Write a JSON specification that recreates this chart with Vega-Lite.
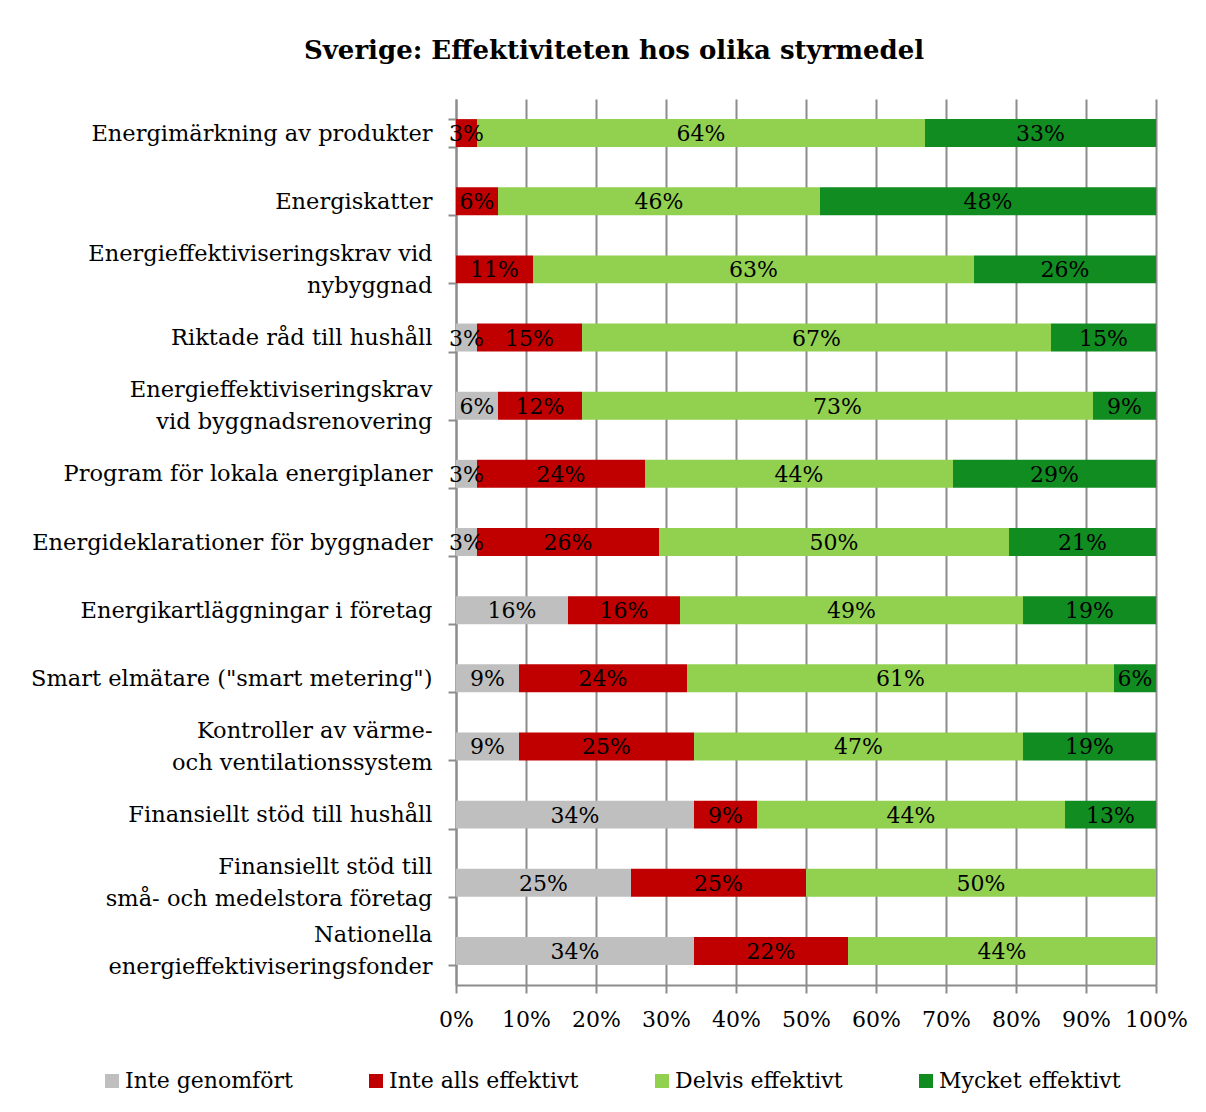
{
  "$schema": "https://vega.github.io/schema/vega-lite/v6.json",
  "width": 700,
  "height": 886,
  "autosize": "none",
  "padding": {"left": 456, "top": 99, "right": 50, "bottom": 127},
  "background": "white",
  "title": {"text": "Sverige: Effektiviteten hos olika styrmedel", "font": "DejaVu Serif", "fontSize": 26, "fontWeight": "bold", "color": "black", "anchor": "middle", "frame": "bounds", "offset": 24, "dx": 5},
  "data": {"values": [
    {"c": "Energimärkning av produkter", "s": "Inte alls effektivt", "n": 2, "v": 0.03},
    {"c": "Energimärkning av produkter", "s": "Delvis effektivt", "n": 3, "v": 0.64},
    {"c": "Energimärkning av produkter", "s": "Mycket effektivt", "n": 4, "v": 0.33},
    {"c": "Energiskatter", "s": "Inte alls effektivt", "n": 2, "v": 0.06},
    {"c": "Energiskatter", "s": "Delvis effektivt", "n": 3, "v": 0.46},
    {"c": "Energiskatter", "s": "Mycket effektivt", "n": 4, "v": 0.48},
    {"c": "Energieffektiviseringskrav vid|nybyggnad", "s": "Inte alls effektivt", "n": 2, "v": 0.11},
    {"c": "Energieffektiviseringskrav vid|nybyggnad", "s": "Delvis effektivt", "n": 3, "v": 0.63},
    {"c": "Energieffektiviseringskrav vid|nybyggnad", "s": "Mycket effektivt", "n": 4, "v": 0.26},
    {"c": "Riktade råd till hushåll", "s": "Inte genomfört", "n": 1, "v": 0.03},
    {"c": "Riktade råd till hushåll", "s": "Inte alls effektivt", "n": 2, "v": 0.15},
    {"c": "Riktade råd till hushåll", "s": "Delvis effektivt", "n": 3, "v": 0.67},
    {"c": "Riktade råd till hushåll", "s": "Mycket effektivt", "n": 4, "v": 0.15},
    {"c": "Energieffektiviseringskrav|vid byggnadsrenovering", "s": "Inte genomfört", "n": 1, "v": 0.06},
    {"c": "Energieffektiviseringskrav|vid byggnadsrenovering", "s": "Inte alls effektivt", "n": 2, "v": 0.12},
    {"c": "Energieffektiviseringskrav|vid byggnadsrenovering", "s": "Delvis effektivt", "n": 3, "v": 0.73},
    {"c": "Energieffektiviseringskrav|vid byggnadsrenovering", "s": "Mycket effektivt", "n": 4, "v": 0.09},
    {"c": "Program för lokala energiplaner", "s": "Inte genomfört", "n": 1, "v": 0.03},
    {"c": "Program för lokala energiplaner", "s": "Inte alls effektivt", "n": 2, "v": 0.24},
    {"c": "Program för lokala energiplaner", "s": "Delvis effektivt", "n": 3, "v": 0.44},
    {"c": "Program för lokala energiplaner", "s": "Mycket effektivt", "n": 4, "v": 0.29},
    {"c": "Energideklarationer för byggnader", "s": "Inte genomfört", "n": 1, "v": 0.03},
    {"c": "Energideklarationer för byggnader", "s": "Inte alls effektivt", "n": 2, "v": 0.26},
    {"c": "Energideklarationer för byggnader", "s": "Delvis effektivt", "n": 3, "v": 0.50},
    {"c": "Energideklarationer för byggnader", "s": "Mycket effektivt", "n": 4, "v": 0.21},
    {"c": "Energikartläggningar i företag", "s": "Inte genomfört", "n": 1, "v": 0.16},
    {"c": "Energikartläggningar i företag", "s": "Inte alls effektivt", "n": 2, "v": 0.16},
    {"c": "Energikartläggningar i företag", "s": "Delvis effektivt", "n": 3, "v": 0.49},
    {"c": "Energikartläggningar i företag", "s": "Mycket effektivt", "n": 4, "v": 0.19},
    {"c": "Smart elmätare (\"smart metering\")", "s": "Inte genomfört", "n": 1, "v": 0.09},
    {"c": "Smart elmätare (\"smart metering\")", "s": "Inte alls effektivt", "n": 2, "v": 0.24},
    {"c": "Smart elmätare (\"smart metering\")", "s": "Delvis effektivt", "n": 3, "v": 0.61},
    {"c": "Smart elmätare (\"smart metering\")", "s": "Mycket effektivt", "n": 4, "v": 0.06},
    {"c": "Kontroller av värme-|och ventilationssystem", "s": "Inte genomfört", "n": 1, "v": 0.09},
    {"c": "Kontroller av värme-|och ventilationssystem", "s": "Inte alls effektivt", "n": 2, "v": 0.25},
    {"c": "Kontroller av värme-|och ventilationssystem", "s": "Delvis effektivt", "n": 3, "v": 0.47},
    {"c": "Kontroller av värme-|och ventilationssystem", "s": "Mycket effektivt", "n": 4, "v": 0.19},
    {"c": "Finansiellt stöd till hushåll", "s": "Inte genomfört", "n": 1, "v": 0.34},
    {"c": "Finansiellt stöd till hushåll", "s": "Inte alls effektivt", "n": 2, "v": 0.09},
    {"c": "Finansiellt stöd till hushåll", "s": "Delvis effektivt", "n": 3, "v": 0.44},
    {"c": "Finansiellt stöd till hushåll", "s": "Mycket effektivt", "n": 4, "v": 0.13},
    {"c": "Finansiellt stöd till|små- och medelstora företag", "s": "Inte genomfört", "n": 1, "v": 0.25},
    {"c": "Finansiellt stöd till|små- och medelstora företag", "s": "Inte alls effektivt", "n": 2, "v": 0.25},
    {"c": "Finansiellt stöd till|små- och medelstora företag", "s": "Delvis effektivt", "n": 3, "v": 0.50},
    {"c": "Nationella|energieffektiviseringsfonder", "s": "Inte genomfört", "n": 1, "v": 0.34},
    {"c": "Nationella|energieffektiviseringsfonder", "s": "Inte alls effektivt", "n": 2, "v": 0.22},
    {"c": "Nationella|energieffektiviseringsfonder", "s": "Delvis effektivt", "n": 3, "v": 0.44}
  ]},
  "encoding": {
    "y": {
      "field": "c", "type": "nominal", "sort": null,
      "scale": {"paddingInner": 0.59, "paddingOuter": 0.295},
      "axis": {
        "title": null,
        "labelExpr": "indexof(datum.label, '|') >= 0 ? split(replace(datum.label, '|', '|\u200b|'), '|') : ['\u200b', datum.label]",
        "labelLineHeight": 16, "labelOffset": -16,
        "tickBand": "extent", "tickSize": 8, "labelPadding": 16, "labelLimit": 600,
        "grid": false, "labelAlign": "right", "labelFontSize": 22.5
      }
    },
    "order": {"field": "n", "type": "quantitative"}
  },
  "layer": [
    {
      "mark": {"type": "bar"},
      "encoding": {
        "x": {
          "field": "v", "type": "quantitative", "stack": "zero",
          "scale": {"domain": [0, 1], "nice": false},
          "axis": {"title": null, "format": ".0%", "values": [0, 0.1, 0.2, 0.3, 0.4, 0.5, 0.6, 0.7, 0.8, 0.9, 1], "grid": true, "tickSize": 8, "labelPadding": 16, "labelFlush": false}
        },
        "color": {
          "field": "s", "type": "nominal",
          "scale": {"domain": ["Inte genomfört", "Inte alls effektivt", "Delvis effektivt", "Mycket effektivt"], "range": ["#BFBFBF", "#C00000", "#92D050", "#118C21"]},
          "legend": {
            "title": null, "orient": "none", "legendX": -355, "legendY": 971, "direction": "horizontal",
            "symbolType": "square", "symbolSize": 196, "symbolStrokeWidth": 0, "labelFont": "DejaVu Serif",
            "labelFontSize": 22, "labelColor": "black", "columnPadding": 72, "labelOffset": 2, "labelLimit": 400
          }
        }
      }
    },
    {
      "mark": {"type": "text", "font": "DejaVu Serif", "fontSize": 22, "color": "black", "baseline": "middle", "align": "center", "dy": 1},
      "encoding": {
        "x": {"field": "v", "type": "quantitative", "stack": "zero", "bandPosition": 0.5},
        "text": {"field": "v", "type": "quantitative", "format": ".0%"}
      }
    }
  ],
  "config": {
    "view": {"stroke": null},
    "axis": {
      "labelFont": "DejaVu Serif", "labelFontSize": 22, "labelColor": "black",
      "domainColor": "#8C8C8C", "domainWidth": 2, "tickColor": "#8C8C8C", "tickWidth": 2,
      "gridColor": "#8C8C8C", "gridWidth": 2
    }
  }
}
